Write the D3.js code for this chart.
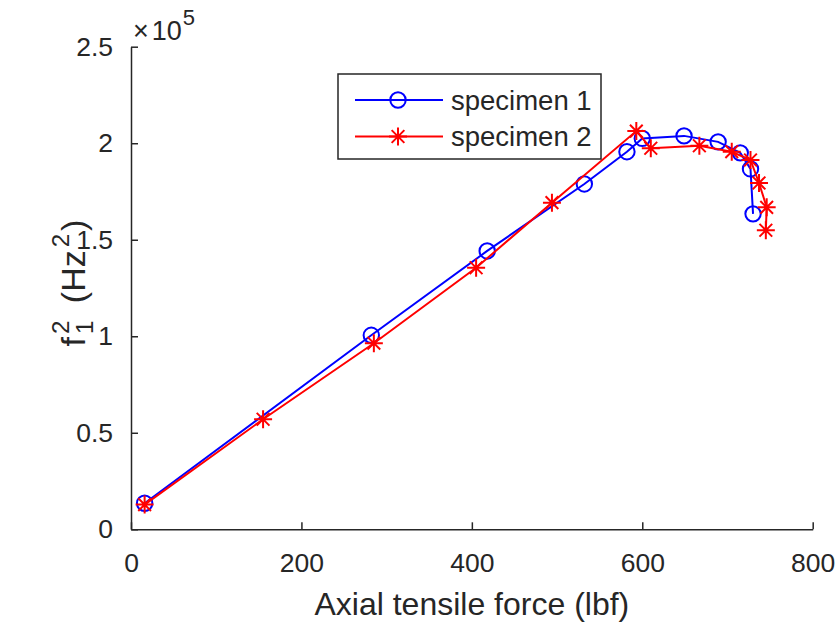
<!DOCTYPE html>
<html>
<head>
<meta charset="utf-8">
<script src="https://cdn.jsdelivr.net/npm/d3@7"></script>
<style>
  html, body { margin: 0; padding: 0; background: #fff; }
  svg { display: block; }
  text { font-family: "Liberation Sans", Arial, Helvetica, sans-serif; fill: #262626; }
</style>
</head>
<body>
<svg id="chart" width="839" height="623"></svg>
<script>
// ---- data (force in lbf, f1^2 in units of 1e5 Hz^2) ----
const force1 = [16, 282, 418, 532, 582, 600, 649, 689, 715, 727, 730];
const freq1  = [0.135, 1.005, 1.442, 1.789, 1.956, 2.025, 2.038, 2.007, 1.950, 1.867, 1.634];
const force2 = [16, 155, 285, 405, 494, 593, 610, 667, 705, 727, 737, 746, 745];
const freq2  = [0.128, 0.570, 0.964, 1.355, 1.692, 2.063, 1.974, 1.987, 1.956, 1.913, 1.794, 1.668, 1.549];
const seriesNames = ["specimen 1", "specimen 2"];
const xTicks = [0, 200, 400, 600, 800];
const yTicks = [0, 0.5, 1, 1.5, 2, 2.5];
const xLabel = "Axial tensile force (lbf)";

(function () {
const svg = d3.select("#chart");
const axisColor = "#262626";
const mLeft = 131, mRight = 812.7, mTop = 46.7, mBottom = 529.3;

const x = d3.scaleLinear().domain([0, 800]).range([mLeft, mRight]);
const y = d3.scaleLinear().domain([0, 2.5]).range([mBottom, mTop]);

const tickFont = 26.5, labelFont = 32, legendFont = 27.5;

// axes (box off, ticks inward)
const xAxis = svg.append("g").attr("transform", `translate(0,${mBottom})`)
  .call(d3.axisBottom(x).tickValues(xTicks).tickSizeInner(-7).tickSizeOuter(0).tickPadding(24)
        .tickFormat(d3.format("d")));
const yAxis = svg.append("g").attr("transform", `translate(${mLeft},0)`)
  .call(d3.axisLeft(y).tickValues(yTicks).tickSizeInner(-7).tickSizeOuter(0).tickPadding(18)
        .tickFormat(d => String(d)));
[xAxis, yAxis].forEach(a => {
  a.select(".domain").attr("stroke", axisColor).attr("stroke-width", 1.5);
  a.selectAll(".tick line").attr("stroke", axisColor).attr("stroke-width", 1.5);
  a.selectAll(".tick text").attr("font-size", tickFont).attr("fill", axisColor)
    .attr("font-family", '"Liberation Sans", Arial, sans-serif');
});

// exponent label
const expT = svg.append("text").attr("x", mLeft + 2).attr("y", 40).attr("font-size", 27);
expT.append("tspan").text("\u00d7");
expT.append("tspan").attr("dx", 3).text("10");
expT.append("tspan").attr("font-size", 22).attr("dy", -15).attr("dx", 1).text("5");

// x label
svg.append("text").attr("x", (mLeft + mRight) / 2).attr("y", 615).attr("text-anchor", "middle")
  .attr("font-size", labelFont).text(xLabel);

// y label f_1^2 (Hz^2), rotated
const yFont = 34, supSize = 24;
const yl = svg.append("g").attr("transform", `translate(85,283) rotate(-90)`);
const tf = yl.append("text").attr("font-size", yFont).text("f");
const wf = tf.node().getComputedTextLength();
const sub1 = yl.append("text").attr("font-size", supSize).attr("x", wf + 3).attr("y", 8).text("1");
const sup1 = yl.append("text").attr("font-size", supSize).attr("x", wf + 3).attr("y", -16).text("2");
const ws = Math.max(sub1.node().getComputedTextLength(), sup1.node().getComputedTextLength());
const gap = yFont * 0.278 + 8;
let cx = wf + 3 + ws + gap;
const t2 = yl.append("text").attr("font-size", yFont).attr("x", cx).text("(Hz");
cx += t2.node().getComputedTextLength() + 3;
const sup2 = yl.append("text").attr("font-size", supSize).attr("x", cx).attr("y", -16).text("2");
cx += sup2.node().getComputedTextLength() + 3;
const t3 = yl.append("text").attr("font-size", yFont).attr("x", cx).text(")");
const total = cx + t3.node().getComputedTextLength();
yl.selectAll("text").each(function () {
  const el = d3.select(this);
  el.attr("x", (+el.attr("x") || 0) - total / 2);
});

// lines
const line = d3.line().x(d => x(d[0])).y(d => y(d[1]));
const data1 = force1.map((f, i) => [f, freq1[i]]);
const data2 = force2.map((f, i) => [f, freq2[i]]);
const blue = "#0000ff", red = "#ff0000";

function starPath(px, py, r) {
  const d = r * Math.SQRT1_2;
  return `M${px - r},${py}L${px + r},${py}M${px},${py - r}L${px},${py + r}` +
         `M${px - d},${py - d}L${px + d},${py + d}M${px - d},${py + d}L${px + d},${py - d}`;
}

svg.append("path").datum(data1).attr("d", line).attr("fill", "none").attr("stroke", blue).attr("stroke-width", 2);
svg.selectAll(".c1").data(data1).enter().append("circle").attr("class", "c1")
  .attr("cx", d => x(d[0])).attr("cy", d => y(d[1])).attr("r", 7.7)
  .attr("fill", "none").attr("stroke", blue).attr("stroke-width", 2);

svg.append("path").datum(data2).attr("d", line).attr("fill", "none").attr("stroke", red).attr("stroke-width", 2);
svg.selectAll(".s2").data(data2).enter().append("path").attr("class", "s2")
  .attr("d", d => starPath(x(d[0]), y(d[1]), 9))
  .attr("fill", "none").attr("stroke", red).attr("stroke-width", 2);

// legend
const lg = svg.append("g");
lg.append("rect").attr("x", 338).attr("y", 74).attr("width", 263).attr("height", 85)
  .attr("fill", "#fff").attr("stroke", axisColor).attr("stroke-width", 1.5);
const rowsY = [100, 136.5];
[[blue, "circle"], [red, "star"]].forEach(([col, m], i) => {
  const yy = rowsY[i];
  lg.append("line").attr("x1", 355).attr("x2", 443).attr("y1", yy).attr("y2", yy)
    .attr("stroke", col).attr("stroke-width", 2);
  if (m === "circle") {
    lg.append("circle").attr("cx", 398).attr("cy", yy).attr("r", 7.7)
      .attr("fill", "none").attr("stroke", col).attr("stroke-width", 2);
  } else {
    lg.append("path").attr("d", starPath(398, yy, 9)).attr("fill", "none")
      .attr("stroke", col).attr("stroke-width", 2);
  }
  lg.append("text").attr("x", 451).attr("y", yy + 9.5).attr("font-size", legendFont)
    .attr("fill", "#000").text(seriesNames[i]);
});
})();
</script>
</body>
</html>
